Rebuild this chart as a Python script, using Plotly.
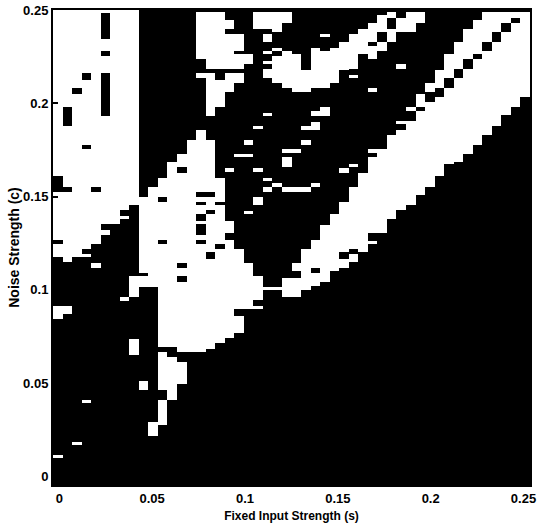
import numpy as np
import plotly.graph_objects as go

# Binary map: 50 columns x 50 rows.
# Each entry: (first column, column after last, top, bottom); top/bottom count down
# from the upper map edge in 1/28.5 of a row, with the edge itself at 30.
WHITE_AREAS = [
    (0, 9, 30, 770), (1, 2, 770, 785),
    # centre triangle
    (15, 16, 392, 421), (14, 17, 421, 460), (13, 17, 460, 488), (12, 17, 488, 532),
    (11, 18, 532, 562), (10, 18, 562, 590), (9, 18, 590, 660), (9, 19, 660, 745),
    (9, 20, 745, 788), (9, 21, 788, 818), (10, 21, 818, 830), (8, 22, 830, 860),
    (8, 9, 860, 888), (11, 22, 860, 900), (11, 21, 900, 928), (21, 22, 918, 928),
    (11, 20, 928, 998), (11, 19, 998, 1013), (11, 18, 1013, 1028), (11, 17, 1028, 1040),
    (13, 16, 1040, 1055), (16, 17, 1040, 1043), (22, 24, 862, 870),
    # lower lobe
    (11, 12, 1058, 1168), (12, 13, 1068, 1197), (13, 14, 1085, 1153),
    (11, 12, 1200, 1275), (10, 11, 1267, 1308),
    # top centre block
    (15, 18, 35, 178), (18, 19, 57, 85), (18, 20, 100, 152), (18, 19, 152, 178),
    (19, 21, 165, 178), (20, 21, 178, 192), (16, 20, 178, 205),
    (15, 17, 222, 235), (16, 20, 222, 250), (16, 19, 250, 278), (16, 18, 278, 320),
    (16, 17, 320, 346),
    # top blob
    (21, 25, 35, 70), (21, 24, 70, 85), (23, 24, 85, 97),
]

U_BAND = [
    (22, 208, 235), (23, 168, 247), (24, 155, 263), (25, 165, 275), (26, 210, 275),
    (27, 143, 263), (28, 155, 263), (29, 143, 248), (30, 127, 210), (31, 100, 208),
    (32, 85, 165), (33, 70, 175), (34, 45, 152), (35, 33, 127), (36, 55, 97),
    (37, 33, 97), (38, 33, 68),
]

UPPER_STRAND = [
    (38, 280, 318), (39, 250, 278), (40, 210, 265), (41, 165, 235), (42, 127, 205),
    (43, 85, 178), (44, 57, 165), (45, 33, 125), (46, 33, 97), (47, 33, 70), (48, 33, 55),
]

MAIN_BAND = [
    (24, 833, 888), (25, 833, 888), (26, 748, 872), (27, 720, 858), (28, 675, 845),
    (29, 645, 815), (30, 605, 802), (31, 560, 785), (32, 520, 758), (33, 472, 700),
    (34, 447, 700), (35, 405, 657), (36, 390, 628), (37, 362, 615), (38, 333, 587),
    (39, 305, 560), (40, 293, 528), (41, 265, 490), (42, 235, 485), (43, 208, 460),
    (44, 178, 432), (45, 155, 403), (46, 125, 375), (47, 97, 345), (48, 70, 318),
    (49, 33, 290),
]

BLACK_HOLES = [
    # left block
    (5, 6, 40, 115), (5, 6, 155, 167), (3, 4, 222, 238), (5, 6, 222, 348),
    (2, 3, 265, 280), (1, 2, 320, 378), (3, 4, 434, 450), (0, 1, 530, 565),
    (0, 2, 563, 578), (4, 5, 562, 577), (0, 1, 718, 735),
    # staircase at the foot of the left block
    (8, 9, 615, 770), (7, 8, 628, 648), (7, 8, 658, 770), (6, 7, 672, 770),
    (5, 6, 672, 690), (5, 6, 705, 770), (4, 5, 732, 770), (3, 4, 745, 760),
    # centre triangle
    (13, 14, 500, 518), (11, 12, 590, 605), (15, 17, 575, 590), (15, 16, 603, 615),
    (17, 18, 603, 615), (16, 17, 630, 645), (15, 16, 645, 660), (15, 16, 672, 705),
    (15, 16, 718, 735), (18, 19, 702, 720), (11, 12, 718, 735), (17, 18, 733, 748),
    (16, 17, 758, 774), (13, 14, 788, 803), (13, 14, 830, 847), (19, 20, 928, 945),
    (17, 18, 222, 237),
    # U band and main band holes
    (33, 34, 125, 140), (34, 35, 97, 127), (35, 36, 55, 85),
    (27, 28, 803, 820), (30, 31, 758, 775), (31, 32, 745, 760),
]

WHITE_SPECKS = [
    (4, 5, 790, 802), (7, 8, 892, 902), (0, 2, 918, 942), (0, 1, 942, 957),
    (8, 9, 1017, 1065), (9, 10, 1142, 1168), (3, 4, 1200, 1208), (2, 3, 1326, 1337),
    (0, 1, 1365, 1375),
    (22, 23, 100, 127), (22, 23, 155, 165), (22, 23, 180, 190), (23, 24, 145, 155),
    (22, 23, 338, 347), (21, 22, 378, 388), (20, 21, 420, 432), (19, 21, 460, 470),
    (18, 19, 503, 515), (21, 22, 503, 515), (22, 23, 535, 545), (23, 24, 548, 560),
    (22, 23, 563, 575), (21, 22, 590, 615), (20, 21, 632, 643),
    (28, 29, 100, 112), (28, 29, 322, 347), (27, 28, 335, 347), (27, 28, 365, 390),
    (26, 27, 378, 390), (26, 27, 420, 432), (24, 26, 450, 458), (24, 25, 473, 500),
    (30, 31, 503, 517), (31, 32, 490, 500), (27, 28, 548, 560), (24, 27, 563, 575),
    (36, 37, 193, 207), (31, 32, 225, 235), (33, 34, 265, 275),
    (33, 34, 450, 458), (36, 37, 362, 373), (37, 38, 320, 332),
    (33, 34, 722, 732), (25, 26, 790, 815), (22, 24, 862, 868),
]

X_TICKS = [0, 0.05, 0.1, 0.15, 0.2, 0.25]
Y_TICKS = [0, 0.05, 0.1, 0.15, 0.2, 0.25]
TICK_LABELS = ["0", "0.05", "0.1", "0.15", "0.2", "0.25"]
X_TITLE = "Fixed Input Strength (s)"
Y_TITLE = "Noise Strength (c)"
X_RANGE = [-0.0034, 0.2535]
Y_RANGE = [-0.0046, 0.25]

N = 50
SUB = 6
UNIT = 28.5 / SUB
z = np.zeros((N * SUB, N))


def paint(c0, c1, top, bottom, value):
    s0 = max(0, int(round((top - 30) / UNIT)))
    s1 = int(round((bottom - 30) / UNIT))
    z[s0:max(s1, s0 + 1), c0:c1] = value


for a in WHITE_AREAS:
    paint(*a, 1)
for c, top, bottom in U_BAND + UPPER_STRAND + MAIN_BAND:
    paint(c, c + 1, top, bottom, 1)
for a in BLACK_HOLES:
    paint(*a, 0)
for a in WHITE_SPECKS:
    paint(*a, 1)

x_step = (X_RANGE[1] - X_RANGE[0]) / N
y_step = (Y_RANGE[1] - Y_RANGE[0]) / (N * SUB)

fig = go.Figure(
    go.Heatmap(
        z=z,
        x0=X_RANGE[0] + x_step / 2,
        dx=x_step,
        y0=Y_RANGE[1] - y_step / 2,
        dy=-y_step,
        colorscale=[[0, "#000000"], [1, "#ffffff"]],
        zmin=0,
        zmax=1,
        showscale=False,
        hoverinfo="skip",
    )
)

family = "Liberation Sans, Arial, sans-serif"
font = dict(family=family, size=13, color="#000000", weight=700)
axis_common = dict(
    automargin=False,
    showgrid=False,
    zeroline=False,
    showline=True,
    linecolor="#000000",
    linewidth=2,
    mirror=True,
    ticks="inside",
    ticklen=5,
    tickwidth=1.5,
    tickcolor="#000000",
    tickfont=font,
)
fig.update_layout(
    width=538,
    height=527,
    autosize=False,
    paper_bgcolor="#ffffff",
    plot_bgcolor="#000000",
    margin=dict(l=52.5, r=7.5, t=10, b=42),
    xaxis=dict(
        range=X_RANGE, tickvals=X_TICKS, ticktext=TICK_LABELS,
        title=dict(text=X_TITLE, font=dict(family=family, size=12, color="#000000", weight=700), standoff=7),
        **axis_common,
    ),
    yaxis=dict(
        range=Y_RANGE, tickvals=Y_TICKS, ticktext=TICK_LABELS,
        title=dict(text=Y_TITLE, font=dict(family=family, size=14, color="#000000", weight=700), standoff=0),
        **axis_common,
    ),
)
fig.write_html(
    "out.html",
    config={"displayModeBar": False},
    post_script="document.body.style.margin='0';document.documentElement.style.overflow='hidden';",
)
